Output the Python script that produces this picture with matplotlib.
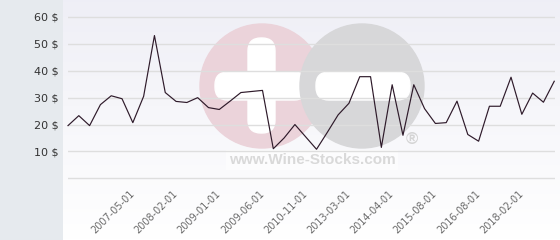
# -*- coding: utf-8 -*-

import numpy as np
import matplotlib
matplotlib.use("Agg")
import matplotlib.pyplot as plt
from matplotlib.patches import Circle, FancyBboxPatch

# Datos (precio por fecha)
precios = [19.6, 23.3, 19.6, 27.4, 30.7, 29.6, 20.7, 30.5, 53.1, 31.9,
           28.6, 28.2, 30.0, 26.3, 25.6, 28.7, 31.9, 32.3, 32.7, 11.0,
           15.0, 20.0, 15.4, 10.8, 17.1, 23.6, 27.9, 37.8, 37.8, 11.5,
           34.8, 16.0, 34.8, 25.9, 20.4, 20.7, 28.7, 16.3, 13.8, 26.8,
           26.8, 37.6, 23.8, 31.7, 28.3, 36.1]
pos_fechas = [6, 10, 14, 18, 22, 26, 30, 34, 38, 42]
fechas = ["2007-05-01", "2008-02-01", "2009-01-01", "2009-06-01",
          "2010-11-01", "2013-03-01", "2014-04-01", "2015-08-01",
          "2016-08-01", "2018-02-01"]
ticks_y = [0, 10, 20, 30, 40, 50, 60]

W, H = 560, 240
fig = plt.figure(figsize=(W / 100, H / 100), dpi=100)
fig.patch.set_facecolor("#e6eaee")

def px(x0, y0, x1, y1):
    # caja en pixeles (origen arriba a la izquierda) -> fraccion de figura
    return [x0 / W, 1 - y1 / H, (x1 - x0) / W, (y1 - y0) / H]

#----------------------------------------------------------------------------#
# Fondo con degradado y marca de agua
bg = fig.add_axes(px(63, 0, W, H))
bg.set_xlim(63, W)
bg.set_ylim(H, 0)
bg.axis("off")
grad = np.linspace(0, 1, 100).reshape(-1, 1)
top = np.array([0.937, 0.937, 0.965])
bot = np.array([1.0, 1.0, 1.0])
img = top + (bot - top) * grad[:, :, None]
bg.imshow(img, extent=(63, W, H, 0), aspect="auto", zorder=0)

bg.add_patch(Circle((262, 86), 62, color="#ebd3da", zorder=1))
bg.add_patch(FancyBboxPatch((248, 38), 27, 95, boxstyle="round,pad=0,rounding_size=13",
                            color="white", zorder=2))
bg.add_patch(FancyBboxPatch((215, 72), 92, 28, boxstyle="round,pad=0,rounding_size=13",
                            color="white", zorder=2))
bg.add_patch(Circle((362, 86), 62, color="#d7d7d9", zorder=3))
bg.add_patch(FancyBboxPatch((316, 72), 94, 28, boxstyle="round,pad=0,rounding_size=13",
                            color="white", zorder=4))
bg.text(312, 160, "www.Wine-Stocks.com", ha="center", va="center",
        family="Liberation Sans", weight="bold", fontsize=11, color="#d9d9d9",
        zorder=5, bbox=dict(facecolor="white", edgecolor="none", alpha=0.5, pad=2))
bg.text(412, 140, "\u00ae", ha="center", va="center", family="Liberation Sans",
        weight="bold", fontsize=12, color="#d4d4d4", zorder=5)

#----------------------------------------------------------------------------#
# Grafico principal (margen de 0.5 para que se vean las lineas 0 y 60)
ax = fig.add_axes(px(68, 17 - 1.35, 555, 178.3 + 1.35))
ax.set_facecolor("none")
x = np.arange(len(precios))
ax.plot(x, precios, color="#2e1a2a", lw=0.85, zorder=3, clip_on=False)
ax.set_xlim(0, len(precios) - 1 + 0.07)
ax.set_ylim(-0.5, 60.5)

for s in ax.spines.values():
    s.set_visible(False)
ax.set_yticks(ticks_y)
ax.set_yticklabels(["" if v == 0 else "%d $" % v for v in ticks_y])
ax.grid(True, axis="y", color="#dedede", lw=1)
ax.tick_params(axis="y", length=0, pad=7, labelsize=8, labelcolor="#333333")

ax.set_xticks(pos_fechas)
ax.set_xticklabels(fechas, rotation=45, ha="right", va="center",
                   rotation_mode="anchor")
ax.tick_params(axis="x", length=0, pad=9, labelsize=7, labelcolor="#6a6a6a")

fig.savefig("out.png", dpi=100, facecolor=fig.get_facecolor())
